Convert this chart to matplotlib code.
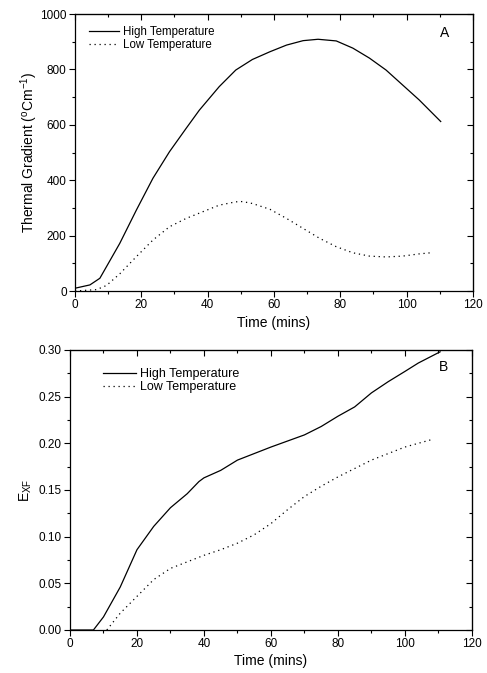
import matplotlib
matplotlib.use('Agg')
import matplotlib.pyplot as plt
from matplotlib.ticker import MultipleLocator, FormatStrFormatter

plt.rcParams['font.family'] = ['Liberation Sans', 'DejaVu Sans']
plt.rcParams['mathtext.fontset'] = 'custom'
plt.rcParams['mathtext.rm'] = 'Liberation Sans'
plt.rcParams['mathtext.it'] = 'Liberation Sans'

# Panel A - thermal gradient
t_high_a = [0, 4.5, 7.5, 9.5, 13.5, 18.5, 23.5, 28.5, 33.5, 37.5, 43.5, 48.5,
            53.5, 58.8, 63.8, 68.8, 73.3, 78.8, 83.8, 88.8, 93.8, 98.8, 103.8, 110.3]
grad_high = [10, 22, 46, 88, 172, 292, 407, 503, 587, 653, 738, 798,
             836, 864, 888, 904, 909, 903, 877, 841, 798, 744, 690, 612]
t_low_a = [0, 6.5, 9.5, 13.5, 18.5, 23.5, 28.5, 33.5, 38.5, 43.5, 48.5, 50.5,
           53.5, 58.8, 63.8, 68.8, 73.8, 78.8, 83.8, 88.8, 93.8, 98.8, 103.8, 107.3]
grad_low = [0, 5, 20, 62, 124, 184, 232, 262, 286, 310, 322, 323,
            316, 295, 262, 226, 190, 160, 138, 126, 123, 126, 134, 138]

# Panel B - E_XF
t_high_b = [0, 7, 10, 15, 20, 25, 30, 35, 38.5, 40, 45, 50, 55, 60,
            70, 75, 80, 85, 90, 95, 100, 104, 110.5]
exf_high = [0, 0, 0.014, 0.046, 0.086, 0.111, 0.131, 0.146, 0.159, 0.163, 0.171, 0.182, 0.189, 0.196,
            0.209, 0.218, 0.229, 0.239, 0.254, 0.266, 0.277, 0.286, 0.298]
t_low_b = [11, 15, 20, 25, 30, 35, 40, 45, 50, 55, 60, 65, 70, 75,
           80, 85, 90, 95, 100, 108]
exf_low = [0, 0.018, 0.036, 0.054, 0.066, 0.073, 0.080, 0.086, 0.093, 0.102, 0.114, 0.129, 0.143, 0.154,
           0.164, 0.173, 0.182, 0.189, 0.196, 0.204]

dotted = (0, (1, 3))

fig = plt.figure(figsize=(4.87, 6.73), dpi=100)
ax1 = fig.add_axes([0.154, 0.5676, 0.817, 0.4115])
ax2 = fig.add_axes([0.1437, 0.0639, 0.8253, 0.4161])

def style(ax, xmaj, xmin, ymaj, ymin):
    ax.xaxis.set_major_locator(MultipleLocator(xmaj))
    ax.xaxis.set_minor_locator(MultipleLocator(xmin))
    ax.yaxis.set_major_locator(MultipleLocator(ymaj))
    ax.yaxis.set_minor_locator(MultipleLocator(ymin))
    ax.tick_params(which='both', direction='out', labelsize=8.5, pad=2)
    ax.tick_params(which='major', length=4, width=0.8)
    ax.tick_params(which='minor', length=2.5, width=0.8)
    # top and right axes with inward ticks, no labels
    top = ax.secondary_xaxis('top')
    right = ax.secondary_yaxis('right')
    top.xaxis.set_major_locator(MultipleLocator(xmaj))
    top.xaxis.set_minor_locator(MultipleLocator(xmin))
    right.yaxis.set_major_locator(MultipleLocator(ymaj))
    right.yaxis.set_minor_locator(MultipleLocator(ymin))
    for sec in (top, right):
        sec.tick_params(which='both', direction='in', labelleft=False, labelright=False,
                        labeltop=False, labelbottom=False)
        sec.tick_params(which='major', length=4, width=0.8)
        sec.tick_params(which='minor', length=2.5, width=0.8)
    for s in ax.spines.values():
        s.set_linewidth(0.9)

ax1.plot(t_high_a, grad_high, color='black', lw=0.9, label='High Temperature')
ax1.plot(t_low_a, grad_low, color='black', lw=0.9, ls=dotted, label='Low Temperature')
ax1.set_xlim(0, 120)
ax1.set_ylim(0, 1000)
style(ax1, 20, 10, 200, 100)
ax1.set_xlabel('Time (mins)', fontsize=10, labelpad=3)
ax1.set_ylabel('Thermal Gradient ($^{o}$Cm$^{-1}$)', fontsize=10, labelpad=0)
ax1.text(0.93, 0.93, 'A', transform=ax1.transAxes, fontsize=10, ha='center', va='center')
ax1.legend(loc='upper left', bbox_to_anchor=(0.01, 0.995), frameon=False, fontsize=8.3,
           handlelength=2.6, handletextpad=0.3, labelspacing=0.1)

ax2.plot(t_high_b, exf_high, color='black', lw=0.9, label='High Temperature')
ax2.plot(t_low_b, exf_low, color='black', lw=0.9, ls=dotted, label='Low Temperature')
ax2.set_xlim(0, 120)
ax2.set_ylim(0, 0.30)
style(ax2, 20, 10, 0.05, 0.025)
ax2.yaxis.set_major_formatter(FormatStrFormatter('%.2f'))
ax2.set_xlabel('Time (mins)', fontsize=10, labelpad=3)
ax2.set_ylabel('E$_{XF}$', fontsize=10, labelpad=3)
ax2.text(0.93, 0.94, 'B', transform=ax2.transAxes, fontsize=10, ha='center', va='center')
ax2.legend(loc='upper left', bbox_to_anchor=(0.055, 0.975), frameon=False, fontsize=9,
           handlelength=2.6, handletextpad=0.3, labelspacing=0.1)

fig.savefig('out.png', dpi=100)
